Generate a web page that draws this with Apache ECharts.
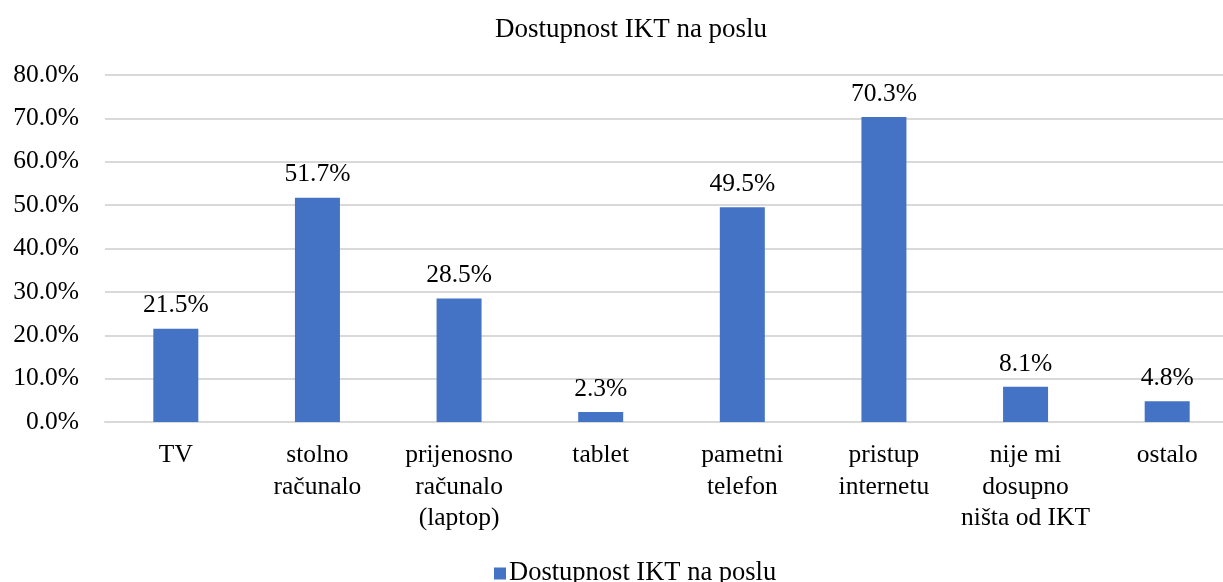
<!DOCTYPE html>
<html>
<head>
<meta charset="utf-8">
<script src="https://cdn.jsdelivr.net/npm/echarts@6/dist/echarts.min.js"></script>
<style>
  html, body { margin: 0; padding: 0; background: #fff; overflow: hidden; }
  #chart { width: 1262px; height: 582px; }
</style>
</head>
<body>
<div id="chart"></div>
<script>
// podaci s grafa
const categories = ['TV', 'stolno\nračunalo', 'prijenosno\nračunalo\n(laptop)', 'tablet',
  'pametni\ntelefon', 'pristup\ninternetu', 'nije mi\ndosupno\nništa od IKT', 'ostalo'];
const values = [21.5, 51.7, 28.5, 2.3, 49.5, 70.3, 8.1, 4.8];
const seriesName = 'Dostupnost IKT na poslu';

const font = 'Liberation Serif, Times New Roman, serif';
const chart = echarts.init(document.getElementById('chart'));

chart.setOption({
  animation: false,
  title: {
    text: 'Dostupnost IKT na poslu',
    left: 'center',
    top: 11,
    textStyle: { fontFamily: font, fontSize: 27, fontWeight: 'normal', color: '#000' }
  },
  legend: {
    data: [seriesName],
    left: 489,
    top: 555,
    itemWidth: 12,
    itemHeight: 12,
    itemGap: 4,
    icon: 'rect',
    textStyle: { fontFamily: font, fontSize: 26.5, color: '#000', padding: [0, 0, 0, -2] }
  },
  grid: { left: 105, top: 75, right: 24, height: 347 },
  xAxis: {
    type: 'category',
    data: categories,
    axisLine: { lineStyle: { color: '#d9d9d9', width: 2 } },
    axisTick: { show: false },
    axisLabel: {
      fontFamily: font, fontSize: 25.5, color: '#000', lineHeight: 31.5, margin: 18,
      interval: 0, align: 'center'
    }
  },
  yAxis: {
    type: 'value',
    min: 0,
    max: 80,
    interval: 10,
    axisLine: { show: false },
    axisTick: { show: false },
    splitLine: { lineStyle: { color: '#d9d9d9', width: 2 } },
    axisLabel: {
      fontFamily: font, fontSize: 25.5, color: '#000', margin: 26,
      formatter: v => v.toFixed(1) + '%'
    }
  },
  series: [{
    name: seriesName,
    type: 'bar',
    data: values,
    barWidth: 45,
    itemStyle: { color: '#4472c4' },
    label: {
      show: true,
      position: 'top',
      distance: 10,
      fontFamily: font, fontSize: 25.5, color: '#000',
      formatter: p => p.value.toFixed(1) + '%'
    }
  }]
});
</script>
</body>
</html>
